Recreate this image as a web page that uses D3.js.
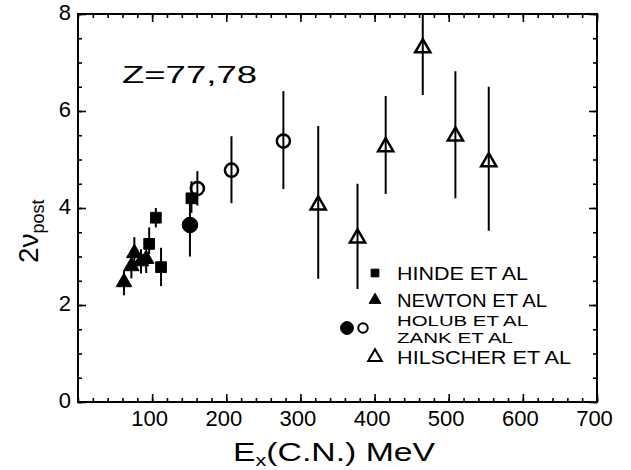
<!DOCTYPE html>
<html>
<head>
<meta charset="utf-8">
<script src="https://cdn.jsdelivr.net/npm/d3@7"></script>
<style>
  body { margin: 0; background: #fff; }
  text { font-family: "Liberation Sans", Arial, sans-serif; fill: #000; }
</style>
</head>
<body>
<div class="chart"></div>
<script>
const width = 631;
const height = 470;

// HINDE ET AL (filled squares)
const hindeE = [96, 105, 112, 153];
const hindeV = [3.26, 3.80, 2.78, 4.20];
const hindeLo = [3.05, 3.60, 2.39, 3.90];
const hindeHi = [3.60, 4.00, 3.18, 4.55];

// NEWTON ET AL (filled triangles)
const newtonE = [62, 72, 76, 85, 92];
const newtonV = [2.47, 2.80, 3.07, 2.90, 2.95];
const newtonLo = [2.20, 2.55, 2.75, 2.65, 2.66];
const newtonHi = [2.70, 3.05, 3.40, 3.15, 3.00];

// HOLUB ET AL (filled circle)
const holubE = [151];
const holubV = [3.65];
const holubLo = [3.00];
const holubHi = [4.30];

// ZANK ET AL (open circles)
const zankE = [161, 207, 277];
const zankV = [4.40, 4.78, 5.38];
const zankLo = [4.05, 4.10, 4.39];
const zankHi = [4.76, 5.48, 6.41];

// HILSCHER ET AL (open triangles)
const hilscherE = [324, 377, 415, 465, 509, 554];
const hilscherV = [4.06, 3.38, 5.26, 7.30, 5.48, 4.95];
const hilscherLo = [2.54, 2.33, 4.29, 6.33, 4.20, 3.53];
const hilscherHi = [5.69, 4.50, 6.31, 8.00, 6.82, 6.50];

const xTickLabels = [100, 200, 300, 400, 500, 600, 700];
const yTickLabels = [0, 2, 4, 6, 8];
const legendLabels = ["HINDE ET AL", "NEWTON ET AL", "HOLUB ET AL", "ZANK ET AL", "HILSCHER ET AL"];

const x = d3.scaleLinear().domain([0, 700]).range([78, 597]);
const y = d3.scaleLinear().domain([0, 8]).range([402, 14]);

const svg = d3.select(".chart").append("svg")
  .attr("width", width)
  .attr("height", height);

svg.append("rect").attr("width", width).attr("height", height).attr("fill", "#fff");

// minor ticks all round
const minorX = d3.range(0, 701, 20);
const minorY = d3.range(0, 8.01, 0.5);
const styleAxis = g => {
  g.select(".domain").remove();
  g.selectAll(".tick line").attr("stroke", "#000").attr("stroke-width", 1.6);
};
svg.append("g").attr("transform", `translate(0,${y(0)})`)
  .call(d3.axisBottom(x).tickValues(minorX).tickSize(-4).tickFormat("")).call(styleAxis);
svg.append("g").attr("transform", `translate(0,${y(8)})`)
  .call(d3.axisTop(x).tickValues(minorX).tickSize(-4).tickFormat("")).call(styleAxis);
svg.append("g").attr("transform", `translate(${x(0)},0)`)
  .call(d3.axisLeft(y).tickValues(minorY).tickSize(-4).tickFormat("")).call(styleAxis);
svg.append("g").attr("transform", `translate(${x(700)},0)`)
  .call(d3.axisRight(y).tickValues(minorY).tickSize(-4).tickFormat("")).call(styleAxis);

// major ticks + labels
const xAxis = svg.append("g").attr("transform", `translate(0,${y(0)})`)
  .call(d3.axisBottom(x).tickValues(xTickLabels).tickSize(-8).tickPadding(8))
  .call(styleAxis);
xAxis.selectAll("text").attr("font-size", 22).attr("dx", -3)
  .attr("font-family", "Liberation Sans, Arial, sans-serif");
svg.append("g").attr("transform", `translate(0,${y(8)})`)
  .call(d3.axisTop(x).tickValues(xTickLabels).tickSize(-8).tickFormat("")).call(styleAxis);

const yAxis = svg.append("g").attr("transform", `translate(${x(0)},0)`)
  .call(d3.axisLeft(y).tickValues(yTickLabels).tickSize(-8).tickPadding(7))
  .call(styleAxis);
yAxis.selectAll("text").attr("font-size", 22).attr("dy", "0.25em")
  .attr("font-family", "Liberation Sans, Arial, sans-serif");
svg.append("g").attr("transform", `translate(${x(700)},0)`)
  .call(d3.axisRight(y).tickValues(yTickLabels).tickSize(-8).tickFormat("")).call(styleAxis);

// frame
svg.append("rect")
  .attr("x", x(0)).attr("y", y(8))
  .attr("width", x(700) - x(0)).attr("height", y(0) - y(8))
  .attr("fill", "none").attr("stroke", "#000").attr("stroke-width", 2);

// error bars and markers
function series(E, V, Lo, Hi, type, size, filled, sw) {
  const data = E.map((e, i) => ({ e, v: V[i], lo: Lo[i], hi: Hi[i] }));
  const g = svg.append("g");
  g.selectAll("line").data(data).join("line")
    .attr("x1", d => x(d.e)).attr("x2", d => x(d.e))
    .attr("y1", d => y(d.lo)).attr("y2", d => y(d.hi))
    .attr("stroke", "#000").attr("stroke-width", 2);
  g.selectAll("path").data(data).join("path")
    .attr("transform", d => `translate(${x(d.e)},${y(d.v)})`)
    .attr("d", d3.symbol().type(type).size(size))
    .attr("fill", filled ? "#000" : "none")
    .attr("stroke", "#000").attr("stroke-width", sw);
}
series(hindeE, hindeV, hindeLo, hindeHi, d3.symbolSquare, 115, true, 1);
series(newtonE, newtonV, newtonLo, newtonHi, d3.symbolTriangle, 105, true, 1);
series(holubE, holubV, holubLo, holubHi, d3.symbolCircle, 190, true, 1);
series(zankE, zankV, zankLo, zankHi, d3.symbolCircle, 135, false, 2.5);
series(hilscherE, hilscherV, hilscherLo, hilscherHi, d3.symbolTriangle, 100, false, 2.5);

// Z label
svg.append("text")
  .attr("x", 122).attr("y", 83)
  .attr("font-size", 23)
  .attr("textLength", 135).attr("lengthAdjust", "spacingAndGlyphs")
  .text("Z=77,78");

// legend
const legendSymbols = [
  { type: d3.symbolSquare, size: 60, filled: true, x: 375, y: 273 },
  { type: d3.symbolTriangle, size: 60, filled: true, x: 375, y: 300 },
  { type: d3.symbolCircle, size: 130, filled: true, x: 347, y: 328 },
  { type: d3.symbolCircle, size: 70, filled: false, x: 363, y: 328 },
  { type: d3.symbolTriangle, size: 80, filled: false, x: 375, y: 357 }
];
svg.append("g").selectAll("path").data(legendSymbols).join("path")
  .attr("transform", d => `translate(${d.x},${d.y})`)
  .attr("d", d => d3.symbol().type(d.type).size(d.size)())
  .attr("fill", d => d.filled ? "#000" : "none")
  .attr("stroke", "#000").attr("stroke-width", d => d.filled ? 1 : 2);

const legendY = [280, 307, 326, 343, 364];
const legendW = [131, 150, 131, 116, 174];
const legendSize = [19, 19, 15, 15, 19];
svg.append("g").selectAll("text").data(legendLabels).join("text")
  .attr("x", 397)
  .attr("y", (d, i) => legendY[i])
  .attr("font-size", (d, i) => legendSize[i])
  .attr("textLength", (d, i) => legendW[i])
  .attr("lengthAdjust", "spacingAndGlyphs")
  .text(d => d);

// axis titles
const xt = svg.append("text").attr("x", 233).attr("y", 461).attr("font-size", 25)
  .attr("textLength", 202).attr("lengthAdjust", "spacingAndGlyphs");
xt.append("tspan").text("E");
xt.append("tspan").attr("font-size", 16).attr("dy", 5).text("x");
xt.append("tspan").attr("dy", -5).text("(C.N.)  MeV");

const yt = svg.append("text")
  .attr("transform", "translate(38,263) rotate(-90)")
  .attr("font-size", 28);
yt.append("tspan").text("2ν");
yt.append("tspan").attr("font-size", 18).attr("dy", 6).text("post");
</script>
</body>
</html>
